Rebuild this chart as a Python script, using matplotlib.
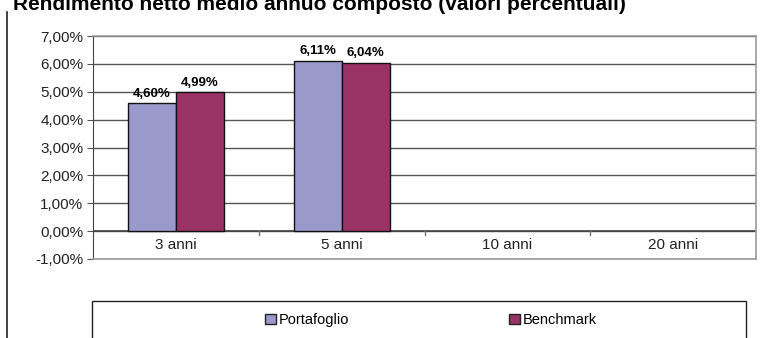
import numpy as np
import matplotlib.pyplot as plt
from matplotlib.patches import Rectangle, Patch
from matplotlib.lines import Line2D

plt.rcParams['font.family'] = ['Liberation Sans', 'DejaVu Sans']

# data
categories = ["3 anni", "5 anni", "10 anni", "20 anni"]
portafoglio = [4.60, 6.11, np.nan, np.nan]
benchmark = [4.99, 6.04, np.nan, np.nan]
yticks = [-1, 0, 1, 2, 3, 4, 5, 6, 7]

col_p = "#9999CC"
col_b = "#993366"

fig = plt.figure(figsize=(7.69, 3.38), dpi=100)
ax = fig.add_axes([93/769, 1-259/338, (756-93)/769, (259-36)/338])

x = np.arange(len(categories))
w = 0.29
bp = ax.bar(x - w/2, portafoglio, w, color=col_p, edgecolor="#111111", linewidth=1, zorder=3)
bb = ax.bar(x + w/2, benchmark, w, color=col_b, edgecolor="#111111", linewidth=1, zorder=3)

for bars, vals in [(bp, portafoglio), (bb, benchmark)]:
    for rect, v in zip(bars, vals):
        if np.isnan(v):
            continue
        ax.text(rect.get_x() + rect.get_width()/2, v + 0.12, f"{v:.2f}%".replace(".", ","),
                ha="center", va="bottom", fontsize=9.5, fontweight="bold")

ax.set_xlim(-0.5, len(categories) - 0.5)
ax.set_ylim(-1, 7)
ax.set_yticks(yticks)
ax.set_yticklabels([f"{t:.2f}%".replace(".", ",") for t in yticks], fontsize=11, color="#222222")
ax.tick_params(axis="y", length=4, color="#555555", pad=3)
ax.set_xticks([])
ax.grid(axis="y", color="#555555", linewidth=1, zorder=1)

# zero line with category separators
ax.axhline(0, color="#444444", linewidth=1.2, zorder=2)
for b in np.arange(0.5, len(categories) - 0.5):
    ax.plot([b, b], [0, -0.15], color="#777777", linewidth=1, zorder=2)
for i, c in enumerate(categories):
    ax.text(i, -0.5, c, ha="center", va="center", fontsize=11, color="#222222")

for s in ["top", "right", "bottom"]:
    ax.spines[s].set_color("#999999")
    ax.spines[s].set_linewidth(1.2)
ax.spines["left"].set_color("#444444")

# title, partly cut off at the top
fig.text(13/769, 1 - 10/338, "Rendimento netto medio annuo composto (valori percentuali)",
         fontsize=15, fontweight="bold", ha="left", va="baseline")

# left border line
fig.add_artist(Line2D([7/769, 7/769], [0, 1 - 12/338], color="#222222", linewidth=1.2))

# legend box
fig.add_artist(Rectangle((92/769, -0.05), (746-92)/769, 0.05 + 1 - 301/338,
                         transform=fig.transFigure, fill=False, edgecolor="#222222", linewidth=1))
handles = [Patch(facecolor=col_p, edgecolor="#222222", label="Portafoglio"),
           Patch(facecolor=col_b, edgecolor="#222222", label="Benchmark")]
fig.legend(handles=handles, loc="center", bbox_to_anchor=(431/769, 1 - 320/338), ncol=2,
           frameon=False, fontsize=10.5, handlelength=0.7, handleheight=0.7, handletextpad=0.2,
           columnspacing=11)

fig.savefig("out.png", dpi=100)
